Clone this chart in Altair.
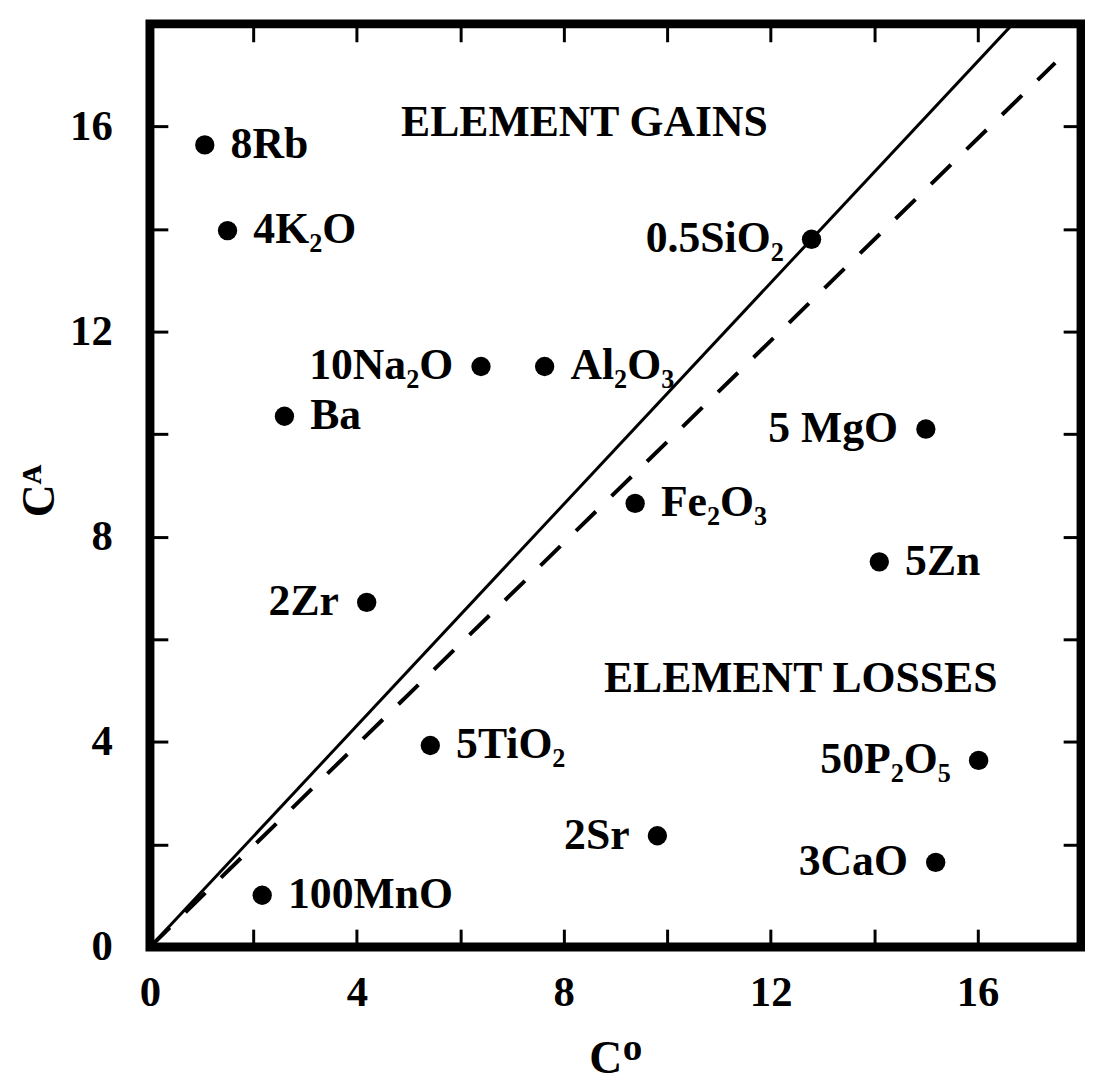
import altair as alt
import pandas as pd

# ---- data ----
labels = ["8Rb", "4K₂O", "10Na₂O", "Al₂O₃", "Ba", "0.5SiO₂", "5 MgO", "Fe₂O₃",
          "5Zn", "2Zr", "5TiO₂", "2Sr", "3CaO", "50P₂O₅", "100MnO"]
c_o = [1.06, 1.50, 6.40, 7.63, 2.60, 12.79, 15.00, 9.38,
       14.10, 4.19, 5.42, 9.81, 15.19, 16.02, 2.17]
c_a = [15.64, 13.97, 11.32, 11.32, 10.35, 13.80, 10.10, 8.65,
       7.51, 6.72, 3.93, 2.17, 1.65, 3.64, 1.01]
label_side = ["right", "right", "left", "right", "right", "left", "left", "right",
              "right", "left", "right", "left", "left", "left", "right"]

region_labels = ["ELEMENT GAINS", "ELEMENT LOSSES"]
region_x = [8.40, 12.58]
region_y = [16.06, 5.23]

isocon_x = [0, 16.68]
isocon_y = [0, 18]
ref_x = [0, 17.5]
ref_y = [0, 17.24]

tick_values = list(range(0, 19, 2))
domain = [0, 18]

FONT = "Liberation Serif"
FS = 44

pts = pd.DataFrame({"CO": c_o, "CA": c_a, "label": labels, "side": label_side})
regions = pd.DataFrame({"CO": region_x, "CA": region_y, "label": region_labels})
iso = pd.DataFrame({"CO": isocon_x, "CA": isocon_y})
ref = pd.DataFrame({"CO": ref_x, "CA": ref_y})

sx = alt.Scale(domain=domain, nice=False, zero=False)
sy = alt.Scale(domain=domain, nice=False, zero=False)

common = dict(values=tick_values, tickSize=18, offset=-18, domain=False, grid=False,
              tickWidth=3, tickColor="black", labelOverlap=False, labelFlush=False)

x_bottom = alt.Axis(orient="bottom", labelExpr="datum.value % 4 == 0 ? datum.label : ''",
                    labelFont=FONT, labelFontSize=43, labelFontWeight="bold",
                    labelColor="black", labelPadding=25,
                    title="Cᴼ", titleFont=FONT, titleFontSize=46, titleFontWeight="bold",
                    titleColor="black", titleBaseline="alphabetic", titleY=144,
                    **common)
y_left = alt.Axis(orient="left", labelExpr="datum.value % 4 == 0 ? datum.label : ''",
                  labelFont=FONT, labelFontSize=43, labelFontWeight="bold",
                  labelColor="black", labelPadding=38,
                  title="Cᴬ", titleFont=FONT, titleFontSize=46, titleFontWeight="bold",
                  titleColor="black", titleAngle=270, titleBaseline="alphabetic",
                  titleAlign="center", titleX=-115, titleY=470,
                  **common)
x_top = alt.Axis(orient="top", labels=False, title=None, **common)
y_right = alt.Axis(orient="right", labels=False, title=None, **common)

points = alt.Chart(pts).mark_circle(size=380, color="black", opacity=1).encode(
    x=alt.X("CO:Q", scale=sx, axis=x_bottom),
    y=alt.Y("CA:Q", scale=sy, axis=y_left),
)

isocon = alt.Chart(iso).mark_line(color="black", strokeWidth=3, clip=True).encode(
    x=alt.X("CO:Q", scale=sx, axis=x_top),
    y=alt.Y("CA:Q", scale=sy, axis=y_right),
)

refline = alt.Chart(ref).mark_line(color="black", strokeWidth=4, strokeDash=[28, 22],
                                   clip=True).encode(
    x=alt.X("CO:Q", scale=sx, axis=None),
    y=alt.Y("CA:Q", scale=sy, axis=None),
)

text_style = dict(font=FONT, fontSize=FS, fontWeight="bold", color="black", baseline="middle")

right_labels = alt.Chart(pts).transform_filter(alt.datum.side == "right").mark_text(
    align="left", dx=26, **text_style).encode(
    x=alt.X("CO:Q", scale=sx, axis=None),
    y=alt.Y("CA:Q", scale=sy, axis=None),
    text="label:N",
)
left_labels = alt.Chart(pts).transform_filter(alt.datum.side == "left").mark_text(
    align="right", dx=-28, **text_style).encode(
    x=alt.X("CO:Q", scale=sx, axis=None),
    y=alt.Y("CA:Q", scale=sy, axis=None),
    text="label:N",
)
region_text = alt.Chart(regions).mark_text(align="center", **text_style).encode(
    x=alt.X("CO:Q", scale=sx, axis=None),
    y=alt.Y("CA:Q", scale=sy, axis=None),
    text="label:N",
)

chart = alt.layer(
    isocon, refline, points, right_labels, left_labels, region_text
).resolve_axis(x="independent", y="independent").properties(
    width=938, height=930,
    autosize=alt.AutoSizeParams(type="none"),
    padding={"left": 143, "top": 12, "right": 4, "bottom": 136},
    background="white",
).configure_view(stroke="black", strokeWidth=9)

chart.save("out.html", embed_options={"renderer": "svg", "actions": False})
